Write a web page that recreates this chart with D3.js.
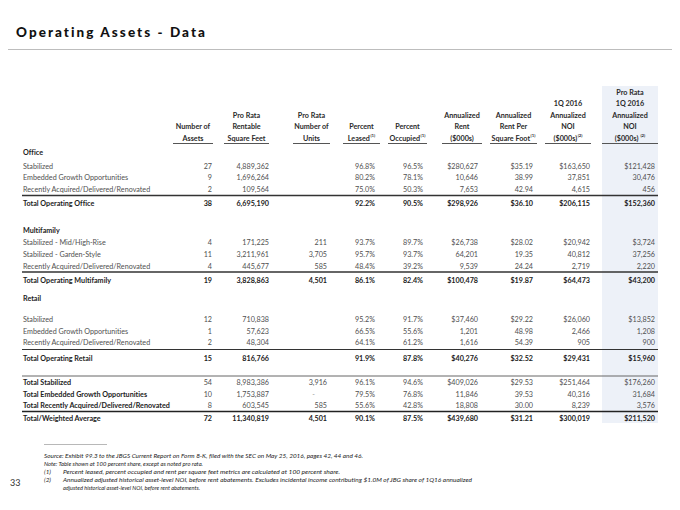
<!DOCTYPE html>
<html><head><meta charset="utf-8">
<script src="https://cdn.jsdelivr.net/npm/d3@7"></script>
<style>body{margin:0;background:#fff} svg{display:block} text{font-variant-ligatures:none;font-feature-settings:"liga" 0}</style>
</head><body><svg id="c" width="680" height="510"></svg>
<script>
// ---------- DATA ----------
const sections = ["Office", "Multifamily", "Retail"];
const rowLabels = [
  "Stabilized", "Embedded Growth Opportunities", "Recently Acquired/Delivered/Renovated", "Total Operating Office",
  "Stabilized - Mid/High-Rise", "Stabilized - Garden-Style", "Recently Acquired/Delivered/Renovated", "Total Operating Multifamily",
  "Stabilized", "Embedded Growth Opportunities", "Recently Acquired/Delivered/Renovated", "Total Operating Retail",
  "Total Stabilized", "Total Embedded Growth Opportunities", "Total Recently Acquired/Delivered/Renovated", "Total/Weighted Average"
];
const boldLabel   = [0,0,0,1, 0,0,0,1, 0,0,0,1, 1,1,1,1];
const boldValues  = [0,0,0,1, 0,0,0,1, 0,0,0,1, 0,0,0,1];
const dollarRows  = [1,0,0,1, 1,0,0,1, 1,0,0,1, 1,0,0,1];
const assets     = [27, 9, 2, 38, 4, 11, 4, 19, 12, 1, 2, 15, 54, 10, 8, 72];
const sqft       = [4889362, 1696264, 109564, 6695190, 171225, 3211961, 445677, 3828863, 710838, 57623, 48304, 816766, 8983386, 1753887, 603545, 11340819];
const units      = [null, null, null, null, 211, 3705, 585, 4501, null, null, null, null, 3916, 0, 585, 4501];
const leased     = [96.8, 80.2, 75.0, 92.2, 93.7, 95.7, 48.4, 86.1, 95.2, 66.5, 64.1, 91.9, 96.1, 79.5, 55.6, 90.1];
const occupied   = [96.5, 78.1, 50.3, 90.5, 89.7, 93.7, 39.2, 82.4, 91.7, 55.6, 61.2, 87.8, 94.6, 76.8, 42.8, 87.5];
const rent       = [280627, 10646, 7653, 298926, 26738, 64201, 9539, 100478, 37460, 1201, 1616, 40276, 409026, 11846, 18808, 439680];
const rentPsf    = [35.19, 38.99, 42.94, 36.10, 28.02, 19.35, 24.24, 19.87, 29.22, 48.98, 54.39, 32.52, 29.53, 39.53, 30.00, 31.21];
const noi        = [163650, 37851, 4615, 206115, 20942, 40812, 2719, 64473, 26060, 2466, 905, 29431, 251464, 40316, 8239, 300019];
const proRataNoi = [121428, 30476, 456, 152360, 3724, 37256, 2220, 43200, 13852, 1208, 900, 15960, 176260, 31684, 3576, 211520];

const columnKeys = ["assets","sqft","units","leased","occupied","rent","rentPsf","noi","proRataNoi"];
const columnHeaders = [
  ["Number of", "Assets"],
  ["Pro Rata", "Rentable", "Square Feet"],
  ["Pro Rata", "Number of", "Units"],
  ["Percent", "Leased"],
  ["Percent", "Occupied"],
  ["Annualized", "Rent", "($000s)"],
  ["Annualized", "Rent Per", "Square Foot"],
  ["1Q 2016", "Annualized", "NOI", "($000s)"],
  ["Pro Rata", "1Q 2016", "Annualized", "NOI", "($000s)"]
];
const headerNotes = ["", "", "", "(1)", "(1)", "", "(1)", "(2)", "(2)"];
const title = "Operating Assets - Data";
const footnotes = [
  ["", "Source: Exhibit 99.3 to the JBGS Current Report on Form 8-K, filed with the SEC on May 25, 2016, pages 42, 44 and 46."],
  ["", "Note: Table shown at 100 percent share, except as noted pro rata."],
  ["(1)", "Percent leased, percent occupied and rent per square feet metrics are calculated at 100 percent share."],
  ["(2)", "Annualized adjusted historical asset-level NOI, before rent abatements. Excludes incidental income contributing $1.0M of JBG share of 1Q16 annualized"],
  ["", "adjusted historical asset-level NOI, before rent abatements."]
];
const pageNumber = "33";

// ---------- LAYOUT ----------
const svg = d3.select("#c");
const F = "Lato, 'Open Sans', sans-serif";
const FS = 7.2;
const values = {assets, sqft, units, leased, occupied, rent, rentPsf, noi, proRataNoi};

const xRight = d3.scaleOrdinal().domain(columnKeys).range([212, 269, 327, 375, 423, 478, 533, 590, 655]);
const xLineL = d3.scaleOrdinal().domain(columnKeys).range([173, 224, 293, 343, 388, 442, 490, 545, 602]);
const xLineR = d3.scaleOrdinal().domain(columnKeys).range([213, 269, 330, 380, 427, 482, 537, 591, 658]);
const yRow = d3.scaleOrdinal().domain(d3.range(rowLabels.length))
  .range([166, 177.7, 189.4, 203.5, 242.8, 254.5, 266.2, 280.5, 319.3, 331, 342.7, 358, 382.3, 394, 405.7, 418]);
const ySection = d3.scaleOrdinal().domain(sections).range([152, 230, 298]);
const yHeader = d3.scaleLinear().domain([0, 4]).range([92, 138]);

// highlighted column
svg.append("rect").attr("x", xLineL("proRataNoi")).attr("y", 86)
  .attr("width", xLineR("proRataNoi") - xLineL("proRataNoi")).attr("height", 423 - 86)
  .attr("fill", "#edf1f8");

// title
svg.append("text").attr("x", 16).attr("y", 32).attr("dy", "0.35em")
  .attr("font-family", F).attr("font-weight", 900).attr("font-size", 13.5)
  .attr("fill", "#111").attr("textLength", 189).attr("lengthAdjust", "spacing").text(title);
svg.append("line").attr("x1", 8).attr("x2", 672).attr("y1", 49.5).attr("y2", 49.5)
  .attr("stroke", "#bdbdbd").attr("stroke-width", 1);

// headers
columnKeys.forEach((k, i) => {
  const lines = columnHeaders[i];
  const cx = (xLineL(k) + xLineR(k)) / 2;
  lines.forEach((t, j) => {
    const idx = 4 - (lines.length - 1 - j);
    const isLast = j === lines.length - 1;
    const txt = svg.append("text").attr("x", cx).attr("y", yHeader(idx)).attr("dy", "0.35em")
      .attr("text-anchor", "middle").attr("font-family", F).attr("font-weight", 700)
      .attr("font-size", FS).attr("fill", "#2a2a2a");
    txt.append("tspan").text(t);
    if (isLast && headerNotes[i]) {
      txt.append("tspan").attr("font-size", 4.3).attr("dy", "-0.9em").attr("dx", k === "proRataNoi" ? "2" : "0.5").text(headerNotes[i]);
    }
  });
  svg.append("line").attr("x1", xLineL(k)).attr("x2", xLineR(k)).attr("y1", 143.5).attr("y2", 143.5)
    .attr("stroke", "#555").attr("stroke-width", 1);
});

// section headers
sections.forEach(s => {
  svg.append("text").attr("x", 23).attr("y", ySection(s)).attr("dy", "0.35em")
    .attr("font-family", F).attr("font-weight", 700).attr("font-size", FS).attr("fill", "#222").text(s);
});

// rules
const rules = [[195.5, "#333", 1.6], [272, "#333", 1.6], [349.5, "#333", 1.2], [376, "#666", 1], [411.5, "#222", 1.6]];
rules.forEach(([y, c, w]) => {
  svg.append("line").attr("x1", 22).attr("x2", 658).attr("y1", y).attr("y2", y)
    .attr("stroke", c).attr("stroke-width", w);
});

// formatting
const fInt = d3.format(",");
function fmt(k, v, r) {
  if (v === null || v === undefined) return "";
  const $ = dollarRows[r] ? "$" : "";
  switch (k) {
    case "assets": return String(v);
    case "sqft": return fInt(v);
    case "units": return v === 0 ? "-" : fInt(v);
    case "leased": case "occupied": return d3.format(".1f")(v) + "%";
    case "rentPsf": return $ + d3.format(".2f")(v);
    default: return $ + fInt(v);
  }
}

// rows
rowLabels.forEach((lab, r) => {
  const y = yRow(r);
  svg.append("text").attr("x", 23).attr("y", y).attr("dy", "0.35em")
    .attr("font-family", F).attr("font-weight", boldLabel[r] ? 700 : 400).attr("font-size", FS)
    .attr("fill", boldLabel[r] ? "#222" : "#505050").text(lab);
  columnKeys.forEach(k => {
    const v = values[k][r];
    const s = fmt(k, v, r);
    if (!s) return;
    const isDash = s === "-";
    svg.append("text").attr("x", isDash ? xRight(k) - 12 : xRight(k)).attr("y", y).attr("dy", "0.35em")
      .attr("text-anchor", "end").attr("font-family", F)
      .attr("font-weight", boldValues[r] ? 700 : 400).attr("font-size", FS)
      .attr("fill", isDash ? "#999" : (boldValues[r] ? "#222" : "#505050")).text(s);
  });
});

// footnotes
svg.append("line").attr("x1", 44).attr("x2", 107).attr("y1", 444.5).attr("y2", 444.5)
  .attr("stroke", "#999").attr("stroke-width", 0.7);
const fnY = d3.scaleLinear().domain([0, 4]).range([456, 488]);
const fnWidths = [319, 159, 277, 409, 137];
footnotes.forEach(([mark, t], i) => {
  const x = (i < 2) ? 44 : 63;
  if (mark) {
    svg.append("text").attr("x", 44).attr("y", fnY(i)).attr("dy", "0.35em")
      .attr("font-family", F).attr("font-style", "italic").attr("font-size", 6.3).attr("fill", "#222").text(mark);
  }
  svg.append("text").attr("x", x).attr("y", fnY(i)).attr("dy", "0.35em")
    .attr("font-family", F).attr("font-style", "italic").attr("font-size", 6.3).attr("fill", "#222")
    .attr("textLength", fnWidths[i]).attr("lengthAdjust", "spacingAndGlyphs").text(t);
});
svg.append("text").attr("x", 10).attr("y", 483).attr("dy", "0.35em")
  .attr("font-family", F).attr("font-size", 9).attr("fill", "#333").text(pageNumber);
</script></body></html>
